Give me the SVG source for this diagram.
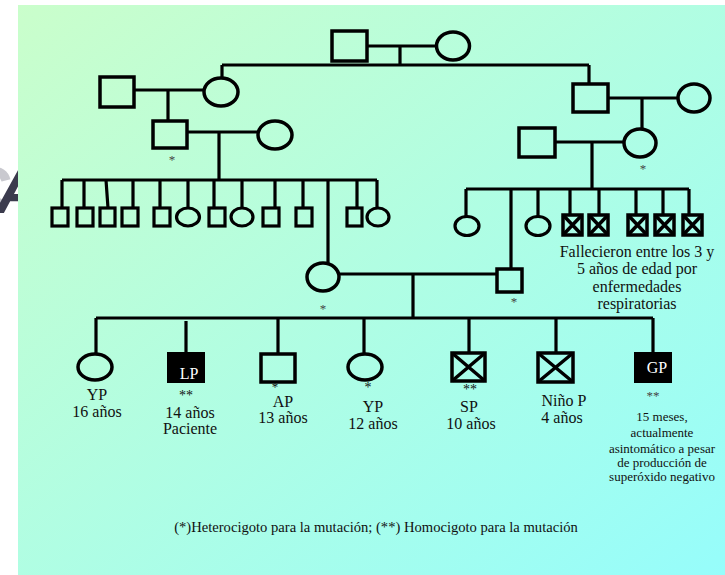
<svg xmlns="http://www.w3.org/2000/svg" width="725" height="575" viewBox="0 0 725 575">
<defs>
<linearGradient id="bg" x1="0" y1="0" x2="1" y2="1">
<stop offset="0" stop-color="#CAFECB"/>
<stop offset="1" stop-color="#96FDFB"/>
</linearGradient>
<style>
.n{fill:none;stroke:#000;stroke-width:3.5}
.sm{fill:none;stroke:#000;stroke-width:3.2}
.f{fill:#000;stroke:#000;stroke-width:2}
.x{stroke:#000;stroke-width:3.5;fill:none}
.c{fill:none;stroke:#000;stroke-width:3.2}
.t{font-family:"Liberation Serif","Times New Roman",serif;font-size:16px;fill:#111;text-anchor:middle}
.w{font-family:"Liberation Serif","Times New Roman",serif;font-size:16px;fill:#fff;text-anchor:middle}
.s{font-family:"Liberation Serif","Times New Roman",serif;font-size:13px;fill:#111;text-anchor:middle}
.a{font-family:"Liberation Serif","Times New Roman",serif;font-size:13px;fill:#444;text-anchor:middle}
.b{font-family:"Liberation Serif","Times New Roman",serif;font-size:14px;fill:#111;text-anchor:middle}
</style>
</defs>
<rect width="725" height="575" fill="#fff"/>
<text x="-38" y="213" font-family="Liberation Sans,sans-serif" font-style="italic" font-weight="bold" font-size="66"><tspan fill="#c9c9cf">C</tspan><tspan dx="-14" fill="#3b3b4d">A</tspan></text>
<rect x="18" y="5" width="707" height="570" fill="url(#bg)"/>

<g id="connectors">
<path class="c" d="M367 46H437M400 46V65M222 65H589M222 65V78M589 65V84"/>
<path class="c" d="M134 90H205M168 90V121"/>
<path class="c" d="M608 98H678M642 98V129"/>
<path class="c" d="M187 132H258M219 132V180M62 180H377"/>
<path class="c" d="M62 180V208M84 180V208M106 180L108 208M133 180V208M160 180V208M188 180V208M214 180V208M242 180V208M275 180V208M303 180V208M357 180V208M377 180V208M328 180V263"/>
<path class="c" d="M555 142H624M592 142V189M466 189H689"/>
<path class="c" d="M466 189V216M538 189V216M570 189V215M599 189V215M636 189V215M663 189V215M689 189V215M511 189V269"/>
<path class="c" d="M339 274H497M413 274V318M96 318H653"/>
<path class="c" d="M96 318V354M186 321V353M278 318V354M364 318V354M469 318V353M556 318V353M653 318V353"/>
</g>

<g id="I1"><rect class="n" x="332" y="31" width="35" height="30"/></g>
<g id="I2"><ellipse class="n" cx="453" cy="46" rx="16.5" ry="14"/></g>
<g id="II1"><rect class="n" x="100" y="77" width="34" height="30"/></g>
<g id="II2"><ellipse class="n" cx="221" cy="92" rx="17" ry="14"/></g>
<g id="II3"><rect class="n" x="573" y="84" width="35" height="28"/></g>
<g id="II4"><ellipse class="n" cx="694" cy="98" rx="16" ry="14"/></g>
<g id="III1"><rect class="n" x="153" y="121" width="34" height="27"/><text class="a" x="172" y="164">*</text></g>
<g id="III2"><ellipse class="n" cx="275" cy="135" rx="17" ry="14"/></g>
<g id="III3"><rect class="n" x="519" y="128" width="36" height="29"/></g>
<g id="III4"><ellipse class="n" cx="640" cy="143" rx="16" ry="14"/><text class="a" x="643" y="173">*</text></g>

<g id="IV-left">
<g id="IV1"><rect class="sm" x="52" y="208" width="16" height="18"/></g>
<g id="IV2"><rect class="sm" x="77" y="208" width="16" height="18"/></g>
<g id="IV3"><rect class="sm" x="100" y="208" width="15" height="18"/></g>
<g id="IV4"><rect class="sm" x="122" y="208" width="16" height="18"/></g>
<g id="IV5"><rect class="sm" x="154" y="208" width="16" height="18"/></g>
<g id="IV6"><ellipse class="sm" cx="188" cy="217" rx="11.5" ry="9"/></g>
<g id="IV7"><rect class="sm" x="209" y="208" width="16" height="18"/></g>
<g id="IV8"><ellipse class="sm" cx="242" cy="217" rx="11" ry="9"/></g>
<g id="IV9"><rect class="sm" x="263" y="208" width="16" height="18"/></g>
<g id="IV10"><rect class="sm" x="296" y="208" width="16" height="18"/></g>
<g id="IV11"><rect class="sm" x="347" y="208" width="15" height="18"/></g>
<g id="IV12"><ellipse class="sm" cx="378" cy="217" rx="11" ry="9"/></g>
</g>

<g id="IV-right">
<g id="IV13"><ellipse class="sm" cx="467" cy="226" rx="12" ry="9.5"/></g>
<g id="IV14"><ellipse class="sm" cx="538" cy="226" rx="12" ry="9.5"/></g>
<g id="IV15"><rect class="x" x="563" y="215" width="19" height="20"/><path class="x" d="M563 215L582 235M582 215L563 235"/></g>
<g id="IV16"><rect class="x" x="589" y="215" width="19" height="20"/><path class="x" d="M589 215L608 235M608 215L589 235"/></g>
<g id="IV17"><rect class="x" x="628" y="215" width="19" height="20"/><path class="x" d="M628 215L647 235M647 215L628 235"/></g>
<g id="IV18"><rect class="x" x="655" y="215" width="19" height="20"/><path class="x" d="M655 215L674 235M674 215L655 235"/></g>
<g id="IV19"><rect class="x" x="683" y="215" width="19" height="20"/><path class="x" d="M683 215L702 235M702 215L683 235"/></g>
<g id="note-fallecieron">
<text class="t" x="637" y="257">Fallecieron entre los 3 y</text>
<text class="t" x="637" y="274">5 años de edad por</text>
<text class="t" x="637" y="292">enfermedades</text>
<text class="t" x="637" y="309">respiratorias</text>
</g>
</g>

<g id="V-mother"><ellipse class="n" cx="323" cy="277" rx="16" ry="14"/><text class="a" x="323" y="313">*</text></g>
<g id="V-father"><rect class="n" x="497" y="269" width="25" height="23"/><text class="a" x="514" y="306">*</text></g>

<g id="VI-YP16"><ellipse class="n" cx="95" cy="367" rx="17" ry="13"/>
<text class="t" x="97" y="400">YP</text><text class="t" x="97" y="417">16 años</text></g>
<g id="VI-LP"><rect class="f" x="168" y="353" width="36" height="29"/><text class="w" x="189" y="379">LP</text>
<text class="b" x="186" y="400">**</text><text class="t" x="190" y="418">14 años</text><text class="t" x="190" y="434">Paciente</text></g>
<g id="VI-AP"><rect class="n" x="261" y="354" width="34" height="28"/>
<text class="s" x="275" y="391">*</text><text class="t" x="283" y="407">AP</text><text class="t" x="283" y="423">13 años</text></g>
<g id="VI-YP12"><ellipse class="n" cx="365" cy="367" rx="17" ry="13"/>
<text class="b" x="368" y="392">*</text><text class="t" x="373" y="412">YP</text><text class="t" x="373" y="429">12 años</text></g>
<g id="VI-SP"><rect class="n" x="452" y="353" width="33" height="28"/><path class="n" d="M452 353L485 381M485 353L452 381"/>
<text class="b" x="470" y="394">**</text><text class="t" x="469" y="412">SP</text><text class="t" x="471" y="429">10 años</text></g>
<g id="VI-NinoP"><rect class="n" x="538" y="353" width="35" height="29"/><path class="n" d="M538 353L573 382M573 353L538 382"/>
<text class="t" x="564" y="406">Niño P</text><text class="t" x="562" y="423">4 años</text></g>
<g id="VI-GP"><rect class="f" x="635" y="353" width="36" height="29"/><text class="w" x="657" y="373">GP</text>
<text class="a" x="653" y="400">**</text>
<text class="s" x="662" y="421">15 meses,</text>
<text class="s" x="662" y="437">actualmente</text>
<text class="s" x="662" y="453">asintomático a pesar</text>
<text class="s" x="662" y="467">de producción de</text>
<text class="s" x="662" y="481">superóxido negativo</text></g>

<g id="legend"><text font-family="Liberation Serif,Times New Roman,serif" font-size="14.6" fill="#111" text-anchor="middle" x="376" y="532">(*)Heterocigoto para la mutación; (**) Homocigoto para la mutación</text></g>
</svg>
